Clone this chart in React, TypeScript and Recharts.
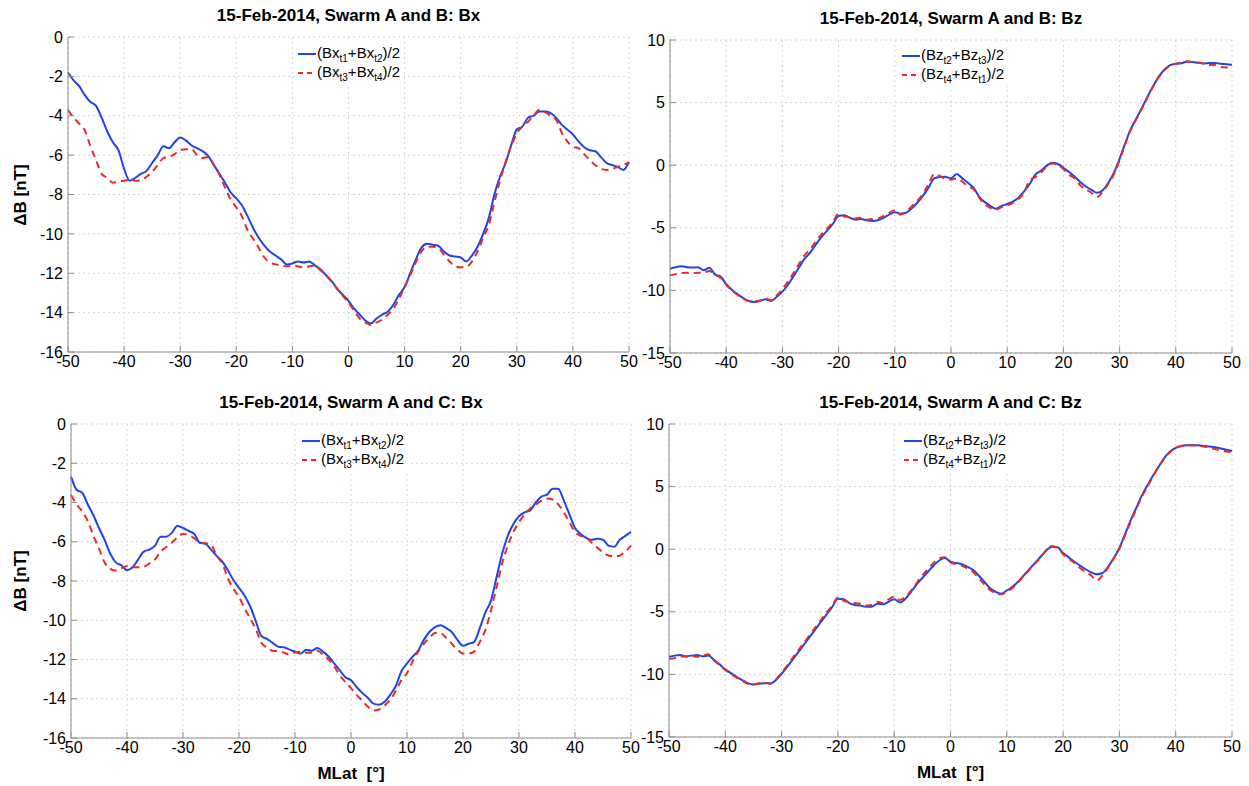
import { LineChart, Line, XAxis, YAxis, CartesianGrid } from "recharts"

// magnetic latitude, degrees
const lat = [
  -50, -49, -48, -47, -46, -45, -44, -43, -42, -41,
  -40, -39, -38, -37, -36, -35, -34, -33, -32, -31,
  -30, -29, -28, -27, -26, -25, -24, -23, -22, -21,
  -20, -19, -18, -17, -16, -15, -14, -13, -12, -11,
  -10, -9, -8, -7, -6, -5, -4, -3, -2, -1,
  0, 1, 2, 3, 4, 5, 6, 7, 8, 9,
  10, 11, 12, 13, 14, 15, 16, 17, 18, 19,
  20, 21, 22, 23, 24, 25, 26, 27, 28, 29,
  30, 31, 32, 33, 34, 35, 36, 37, 38, 39,
  40, 41, 42, 43, 44, 45, 46, 47, 48, 49, 50,
]

const xTicks = [-50, -40, -30, -20, -10, 0, 10, 20, 30, 40, 50]
const bxTicks = [-16, -14, -12, -10, -8, -6, -4, -2, 0]
const bzTicks = [-15, -10, -5, 0, 5, 10]

// Swarm A and B, Bx
const abBxT12 = [
  -1.8, -2.2, -2.5, -2.95, -3.3, -3.5, -4.1, -4.8, -5.35, -5.75,
  -6.7, -7.3, -7.15, -6.95, -6.8, -6.4, -6.0, -5.55, -5.65, -5.35,
  -5.1, -5.25, -5.5, -5.65, -5.8, -6.05, -6.5, -6.95, -7.4, -7.9,
  -8.2, -8.55, -9.1, -9.7, -10.2, -10.6, -10.9, -11.1, -11.3, -11.55,
  -11.5, -11.4, -11.45, -11.4, -11.6, -11.8, -12.1, -12.4, -12.8, -13.1,
  -13.4, -13.8, -14.1, -14.4, -14.55, -14.3, -14.1, -13.95, -13.6, -13.1,
  -12.7, -12.0, -11.3, -10.7, -10.5, -10.55, -10.6, -10.9, -11.1, -11.15,
  -11.2, -11.4, -11.1, -10.65, -10.0, -9.2, -8.0, -7.1, -6.4, -5.5,
  -4.7, -4.55, -4.1, -4.0, -3.78, -3.78, -3.85, -4.1, -4.45, -4.7,
  -4.95, -5.3, -5.6, -5.75, -5.8, -6.1, -6.4, -6.5, -6.6, -6.75, -6.35,
]
const abBxT34 = [
  -3.7, -4.1, -4.4, -4.75, -5.55, -6.25, -6.95, -7.15, -7.4, -7.35,
  -7.3, -7.25, -7.3, -7.3, -7.1, -6.85, -6.5, -6.15, -6.1, -5.95,
  -5.75, -5.7, -5.7, -6.0, -6.15, -6.1, -6.5, -7.0, -7.65, -8.25,
  -8.65, -9.1, -9.8, -10.25, -10.7, -11.2, -11.45, -11.55, -11.6, -11.65,
  -11.6, -11.65, -11.7, -11.65, -11.6, -11.85, -12.1, -12.45, -12.8, -13.15,
  -13.5, -13.9, -14.3, -14.5, -14.63, -14.5, -14.35, -14.1, -13.8, -13.3,
  -12.7, -12.1, -11.45, -10.9, -10.65, -10.65, -10.73, -11.05, -11.4, -11.65,
  -11.7, -11.68, -11.4, -10.9, -10.2, -9.55, -8.4, -7.3, -6.35, -5.55,
  -4.9, -4.55, -4.3, -4.0, -3.7, -3.8, -4.0, -4.2, -4.85, -5.3,
  -5.57, -5.65, -5.95, -6.25, -6.5, -6.7, -6.75, -6.7, -6.6, -6.5, -6.35,
]

// Swarm A and B, Bz
const abBzT23 = [
  -8.27, -8.15, -8.08, -8.15, -8.18, -8.15, -8.4, -8.2, -8.72, -8.9,
  -9.5, -9.95, -10.3, -10.6, -10.85, -10.92, -10.85, -10.7, -10.85, -10.5,
  -10.1, -9.55, -8.85, -8.13, -7.45, -6.95, -6.3, -5.7, -5.2, -4.67,
  -4.05, -4.0, -4.2, -4.35, -4.3, -4.4, -4.45, -4.4, -4.2, -3.95,
  -3.75, -3.87, -3.8, -3.45, -3.0, -2.45, -1.8, -1.05, -0.95, -0.93,
  -1.05, -0.7, -1.05, -1.4, -1.8, -2.5, -2.95, -3.25, -3.47, -3.25,
  -3.1, -2.9, -2.6, -2.1, -1.5, -0.75, -0.45, -0.05, 0.19, 0.1,
  -0.2, -0.55, -0.9, -1.35, -1.7, -1.97, -2.2, -2.0, -1.4, -0.6,
  0.5, 1.75, 2.9, 3.75, 4.6, 5.5, 6.35, 7.1, 7.65, 8.0,
  8.1, 8.15, 8.27, 8.25, 8.18, 8.13, 8.17, 8.17, 8.1, 8.07, 8.03,
]
const abBzT41 = [
  -8.8, -8.7, -8.62, -8.6, -8.62, -8.6, -8.6, -8.45, -8.75, -9.0,
  -9.55, -10.0, -10.35, -10.65, -10.85, -10.9, -10.8, -10.65, -10.8, -10.4,
  -9.9, -9.3, -8.6, -7.85, -7.15, -6.7, -6.05, -5.5, -5.05, -4.5,
  -3.9, -4.1, -4.15, -4.25, -4.2, -4.35, -4.3, -4.25, -4.05, -3.8,
  -3.6, -3.95, -3.7, -3.3, -2.85, -2.3, -1.5, -0.72, -0.85, -1.1,
  -1.15, -1.05, -1.3, -1.7, -1.9, -2.6, -3.1, -3.4, -3.55, -3.35,
  -3.2, -3.0, -2.7, -2.2, -1.2, -0.95, -0.6, -0.1, 0.13, 0.0,
  -0.3, -0.75, -1.05, -1.6, -1.95, -2.2, -2.55, -2.1, -1.5, -0.7,
  0.4, 1.7, 2.85, 3.7, 4.55, 5.45, 6.3, 7.05, 7.6, 7.95,
  8.1, 8.2, 8.3, 8.25, 8.2, 8.1, 8.0, 8.0, 7.85, 7.8, 7.73,
]

// Swarm A and C, Bx
const acBxT12 = [
  -2.68, -3.35, -3.5, -4.1, -4.65, -5.3, -5.9, -6.6, -7.05, -7.2,
  -7.45, -7.3, -6.9, -6.5, -6.4, -6.2, -5.75, -5.74, -5.55, -5.2,
  -5.3, -5.45, -5.6, -6.05, -6.1, -6.4, -6.72, -7.0, -7.45, -7.95,
  -8.35, -8.75, -9.3, -10.05, -10.8, -10.95, -11.15, -11.35, -11.38, -11.5,
  -11.6, -11.7, -11.5, -11.55, -11.42, -11.6, -11.85, -12.2, -12.55, -12.9,
  -13.06, -13.4, -13.7, -13.95, -14.25, -14.3, -14.15, -13.8, -13.35, -12.6,
  -12.2, -11.85, -11.55, -11.0, -10.6, -10.35, -10.25, -10.4, -10.6, -11.0,
  -11.3, -11.2, -11.1, -10.4, -9.6, -9.0, -7.8, -6.6, -5.7, -5.1,
  -4.7, -4.5, -4.4, -4.0, -3.7, -3.6, -3.3, -3.3, -3.9, -4.6,
  -5.3, -5.6, -5.8, -5.9, -5.85, -5.9, -6.2, -6.25, -5.9, -5.7, -5.5,
]
const acBxT34 = [
  -3.62, -4.1, -4.45, -4.95, -5.7, -6.35, -7.05, -7.38, -7.47, -7.35,
  -7.23, -7.3, -7.3, -7.27, -7.1, -6.9, -6.5, -6.27, -6.05, -5.78,
  -5.6, -5.65, -5.82, -6.05, -6.08, -6.15, -6.7, -7.1, -7.85, -8.4,
  -8.8, -9.4, -9.9, -10.45, -11.15, -11.4, -11.55, -11.58, -11.65, -11.75,
  -11.65, -11.6, -11.65, -11.65, -11.55, -11.75, -12.0, -12.35, -12.8, -13.15,
  -13.46, -13.8, -14.1, -14.4, -14.6, -14.55, -14.35, -14.05, -13.6, -13.05,
  -12.7, -12.1, -11.6, -11.2, -10.9, -10.65, -10.65, -10.9, -11.2, -11.5,
  -11.7, -11.7, -11.6, -11.1, -10.5, -9.5, -8.3, -7.1, -6.2, -5.5,
  -5.0, -4.6, -4.3, -4.1, -3.9, -3.8, -3.85, -4.1, -4.5, -5.0,
  -5.5, -5.7, -5.8, -6.05, -6.3, -6.55, -6.7, -6.75, -6.7, -6.5, -6.2,
]

// Swarm A and C, Bz
const acBzT23 = [
  -8.6, -8.5, -8.45, -8.55, -8.5, -8.45, -8.55, -8.5, -8.85, -9.2,
  -9.6, -9.9, -10.2, -10.45, -10.7, -10.8, -10.75, -10.7, -10.72, -10.45,
  -9.95, -9.4, -8.8, -8.2, -7.6, -7.0, -6.4, -5.8, -5.2, -4.6,
  -3.95, -4.0, -4.3, -4.45, -4.5, -4.6, -4.6, -4.35, -4.4, -4.2,
  -4.0, -4.25, -3.95, -3.4, -2.8, -2.3, -1.8, -1.3, -0.9, -0.7,
  -1.0, -1.1, -1.2, -1.4, -1.65, -2.1, -2.6, -3.1, -3.4, -3.55,
  -3.3, -3.0, -2.6, -2.1, -1.6, -1.1, -0.6, -0.1, 0.2, 0.15,
  -0.3, -0.65, -1.0, -1.3, -1.6, -1.85, -2.0, -1.9, -1.4, -0.7,
  0.1, 1.2, 2.3, 3.3, 4.3, 5.1, 5.9, 6.6, 7.3, 7.8,
  8.1, 8.25, 8.3, 8.3, 8.3, 8.25, 8.2, 8.15, 8.05, 7.95, 7.85,
]
const acBzT41 = [
  -8.75, -8.7, -8.55, -8.6, -8.5, -8.6, -8.5, -8.4, -8.9, -9.25,
  -9.65, -9.95, -10.25, -10.5, -10.75, -10.8, -10.7, -10.65, -10.75, -10.4,
  -9.85, -9.3, -8.65, -8.05, -7.45, -6.85, -6.25, -5.65, -5.05, -4.5,
  -3.85, -4.1, -4.25, -4.3, -4.35, -4.5, -4.45, -4.2, -4.3, -4.0,
  -3.8, -4.05, -3.8, -3.3, -2.7, -2.1, -1.6, -1.1, -0.75, -0.65,
  -1.05, -1.2, -1.3, -1.55, -1.8, -2.3, -2.8, -3.25, -3.5, -3.6,
  -3.4, -3.1, -2.65, -2.15, -1.65, -1.15, -0.65, -0.1, 0.25, 0.1,
  -0.4, -0.75, -1.1, -1.5, -1.8, -2.1, -2.5, -2.1, -1.45, -0.75,
  0.05, 1.1, 2.2, 3.2, 4.2, 5.0, 5.85, 6.6, 7.25, 7.75,
  8.1, 8.25, 8.3, 8.3, 8.25, 8.2, 8.1, 8.0, 7.9, 7.8, 7.75,
]

const FONT = '"Liberation Sans", Arial, Helvetica, sans-serif'
const BLUE = "#1f44e8"
const RED = "#ea2a2a"
const AXIS = "#8e8e8e"
const PAD_TOP = 14
const PAD_RIGHT = 22

type PanelProps = {
  left: number
  top: number
  width: number
  height: number
  title: string
  comp: "x" | "z"
  s1: number[]
  s2: number[]
  legendLeft: number
  legendTop: number
  xLabel?: boolean
}

function Panel({ left, top, width, height, title, comp, s1, s2, legendLeft, legendTop, xLabel }: PanelProps) {
  const data = lat.map((x, i) => ({ lat: x, s1: s1[i], s2: s2[i] }))
  const yDomain = comp === "x" ? [-16, 0] : [-15, 10]
  const yTicks = comp === "x" ? bxTicks : bzTicks
  const B = comp === "x" ? "Bx" : "Bz"
  const subs = comp === "x" ? [["t1", "t2"], ["t3", "t4"]] : [["t2", "t3"], ["t4", "t1"]]

  return (
    <>
      <div
        style={{
          position: "absolute",
          left,
          width,
          top: top - 31,
          textAlign: "center",
          fontFamily: FONT,
          fontWeight: "bold",
          fontSize: 17,
          lineHeight: "20px",
        }}
      >
        {title}
      </div>

      {comp === "x" && (
        <div
          style={{
            position: "absolute",
            left: 21 - 60,
            top: top + height / 2 - 10,
            width: 120,
            height: 20,
            lineHeight: "20px",
            textAlign: "center",
            transform: "rotate(-90deg)",
            fontFamily: FONT,
            fontWeight: "bold",
            fontSize: 17,
          }}
        >
          ΔB [nT]
        </div>
      )}

      <div style={{ position: "absolute", left: left - 50, top: top - PAD_TOP }}>
        <LineChart
          width={width + 50 + PAD_RIGHT}
          height={height + PAD_TOP + 30}
          data={data}
          margin={{ top: PAD_TOP, right: PAD_RIGHT, left: 0, bottom: 0 }}
        >
          <CartesianGrid stroke="#d6d6d6" strokeDasharray="2 3" />
          <XAxis
            dataKey="lat"
            type="number"
            domain={[-50, 50]}
            ticks={xTicks}
            interval={0}
            height={30}
            tickSize={-6}
            tickMargin={10}
            stroke={AXIS}
            tick={{ fill: "#000", fontSize: 16, fontFamily: FONT }}
          />
          <XAxis
            xAxisId="top"
            orientation="top"
            dataKey="lat"
            type="number"
            domain={[-50, 50]}
            ticks={xTicks}
            interval={0}
            height={0}
            tickSize={-6}
            tick={false}
            stroke={AXIS}
          />
          <YAxis
            type="number"
            domain={yDomain}
            ticks={yTicks}
            interval={0}
            width={50}
            tickSize={-6}
            tickMargin={11}
            stroke={AXIS}
            tick={{ fill: "#000", fontSize: 16, fontFamily: FONT }}
          />
          <YAxis
            yAxisId="right"
            orientation="right"
            type="number"
            domain={yDomain}
            ticks={yTicks}
            interval={0}
            width={0}
            tickSize={-6}
            tick={false}
            stroke={AXIS}
          />
          <Line
            type="monotone"
            dataKey="s1"
            stroke={BLUE}
            strokeWidth={2}
            dot={false}
            isAnimationActive={false}
          />
          <Line
            type="monotone"
            dataKey="s2"
            stroke={RED}
            strokeWidth={2}
            strokeDasharray="7 5"
            dot={false}
            isAnimationActive={false}
          />
        </LineChart>
      </div>

      {/* legend */}
      <div
        style={{
          position: "absolute",
          left: legendLeft - 3,
          top: legendTop,
          background: "#fff",
          padding: "2px 4px 2px 3px",
          fontFamily: FONT,
          fontSize: 15,
          color: "#000",
        }}
      >
        {subs.map((pair, k) => (
          <div key={k} style={{ display: "flex", alignItems: "center", height: 19 }}>
            <svg width={18} height={10} style={{ marginRight: 1 }}>
              <line
                x1={0}
                y1={5}
                x2={18}
                y2={5}
                stroke={k === 0 ? BLUE : RED}
                strokeWidth={2}
                strokeDasharray={k === 0 ? undefined : "5 4"}
              />
            </svg>
            <span>
              ({B}
              <sub style={{ fontSize: 10 }}>{pair[0]}</sub>+{B}
              <sub style={{ fontSize: 10 }}>{pair[1]}</sub>)/2
            </span>
          </div>
        ))}
      </div>

      {xLabel && (
        <div
          style={{
            position: "absolute",
            left,
            width,
            top: top + height + 26,
            textAlign: "center",
            fontFamily: FONT,
            fontWeight: "bold",
            fontSize: 17,
            whiteSpace: "pre",
          }}
        >
          {"MLat  [°]"}
        </div>
      )}
    </>
  )
}

export default function App() {
  return (
    <div
      style={{
        position: "absolute",
        left: 0,
        top: 0,
        width: 1249,
        height: 786,
        background: "#fff",
        overflow: "hidden",
      }}
    >
      <Panel
        left={68}
        top={37}
        width={561}
        height={315}
        title="15-Feb-2014, Swarm A and B: Bx"
        comp="x"
        s1={abBxT12}
        s2={abBxT34}
        legendLeft={298}
        legendTop={42}
      />
      <Panel
        left={670}
        top={40}
        width={562}
        height={313}
        title="15-Feb-2014, Swarm A and B: Bz"
        comp="z"
        s1={abBzT23}
        s2={abBzT41}
        legendLeft={902}
        legendTop={44}
      />
      <Panel
        left={71}
        top={424}
        width={560}
        height={314}
        title="15-Feb-2014, Swarm A and C: Bx"
        comp="x"
        s1={acBxT12}
        s2={acBxT34}
        legendLeft={302}
        legendTop={429}
        xLabel
      />
      <Panel
        left={669}
        top={424}
        width={563}
        height={313}
        title="15-Feb-2014, Swarm A and C: Bz"
        comp="z"
        s1={acBzT23}
        s2={acBzT41}
        legendLeft={904}
        legendTop={429}
        xLabel
      />
    </div>
  )
}
